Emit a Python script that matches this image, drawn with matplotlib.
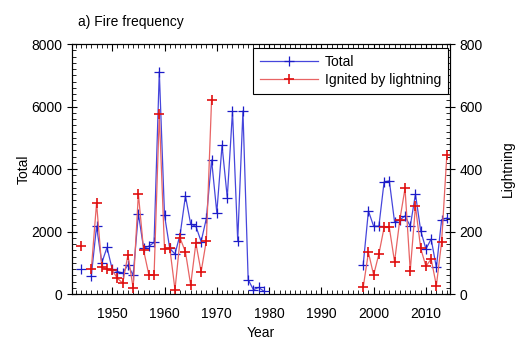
import numpy as np
import matplotlib
matplotlib.use("Agg")
import matplotlib.pyplot as plt
from matplotlib.ticker import MultipleLocator

plt.rcParams["font.family"] = ["Liberation Sans", "DejaVu Sans"]
plt.rcParams["font.size"] = 10

# ---- data ----
years_early = list(range(1944, 1980))
total_early = [800, np.nan, 590, 2170, 1000, 1490, 790, 720, 670, 930, 600,
               2570, 1470, 1530, 1650, 7120, 2520, 1460, 1280, 1920, 3140,
               2240, 2170, 1680, 2420, 4290, 2610, 4760, 3090, 5850, 1710,
               5860, 460, 140, 210, 90]
light_early = [155, np.nan, 80, 291, 86, 79, 76, 50, 35, 125, 19,
               321, 140, 62, 60, 576, 143, 148, 14, 178, 135,
               29, 163, 71, 171, 622]

years_late = list(range(1998, 2015))
total_late = [930, 2660, 2170, 2170, 3590, 3620, 2310, 2370, 2500, 2170,
              3200, 2030, 1440, 1760, 850, 2380, 2430]
light_late = [21, 133, 61, 128, 213, 213, 103, 237, 338, 75,
              281, 146, 89, 112, 27, 167, 445]

BLUE_LINE, BLUE_MK = "#4646dc", "#1c1cc8"
RED_LINE, RED_MK = "#e86464", "#e01010"

fig = plt.figure(figsize=(5.19, 3.59), dpi=100)
ax = fig.add_axes([0.1387, 0.181, 0.7283, 0.696])
ax2 = ax.twinx()

blue_kw = dict(lw=0.9, marker="+", ms=7, mew=0.9)
red_kw = dict(lw=0.9, marker="+", ms=7, mew=1.2)
for yrs, vals in [(years_early, total_early), (years_late, total_late)]:
    ax.plot(yrs, vals, color=BLUE_LINE, mec=BLUE_MK, **blue_kw)
for yrs, vals in [(years_early[:len(light_early)], light_early), (years_late, light_late)]:
    ax2.plot(yrs, vals, color=RED_LINE, mec=RED_MK, **red_kw)

ax.set_xlim(1942.3, 2014.6)
ax.set_ylim(0, 8000)
ax2.set_ylim(0, 800)

ax.xaxis.set_major_locator(MultipleLocator(10))
ax.xaxis.set_minor_locator(MultipleLocator(1))
ax.yaxis.set_major_locator(MultipleLocator(2000))
ax.yaxis.set_minor_locator(MultipleLocator(200))
ax2.yaxis.set_major_locator(MultipleLocator(200))
ax2.yaxis.set_minor_locator(MultipleLocator(20))

ax.tick_params(axis="x", which="both", direction="in", top=True, bottom=True)
ax.tick_params(axis="x", which="major", length=5, width=0.8, pad=9)
ax.tick_params(axis="x", which="minor", length=3, width=0.6)
ax.tick_params(axis="y", which="major", direction="inout", length=7, width=0.8)
ax.tick_params(axis="y", which="minor", direction="in", length=3, width=0.6)
ax2.tick_params(axis="y", which="major", direction="inout", length=7, width=0.8)
ax2.tick_params(axis="y", which="minor", direction="in", length=3, width=0.6)

ax.set_xlabel("Year", labelpad=4)
ax.set_ylabel("Total", labelpad=0)
ax2.set_ylabel("Lightning", labelpad=13)
ax.text(0.015, 1.06, "a) Fire frequency", transform=ax.transAxes, fontsize=10,
        ha="left", va="bottom")

h1 = plt.Line2D([], [], color=BLUE_LINE, mec=BLUE_MK, **blue_kw)
h2 = plt.Line2D([], [], color=RED_LINE, mec=RED_MK, **red_kw)
leg = ax2.legend([h1, h2], ["Total", "Ignited by lightning"], loc="upper right",
                 bbox_to_anchor=(0.9955, 0.985), fancybox=False, framealpha=1,
                 edgecolor="black", handlelength=4.2, borderpad=0.5,
                 labelspacing=0.32, handletextpad=0.5, borderaxespad=0)
leg.get_frame().set_linewidth(0.8)

fig.savefig("out.png", dpi=100)
